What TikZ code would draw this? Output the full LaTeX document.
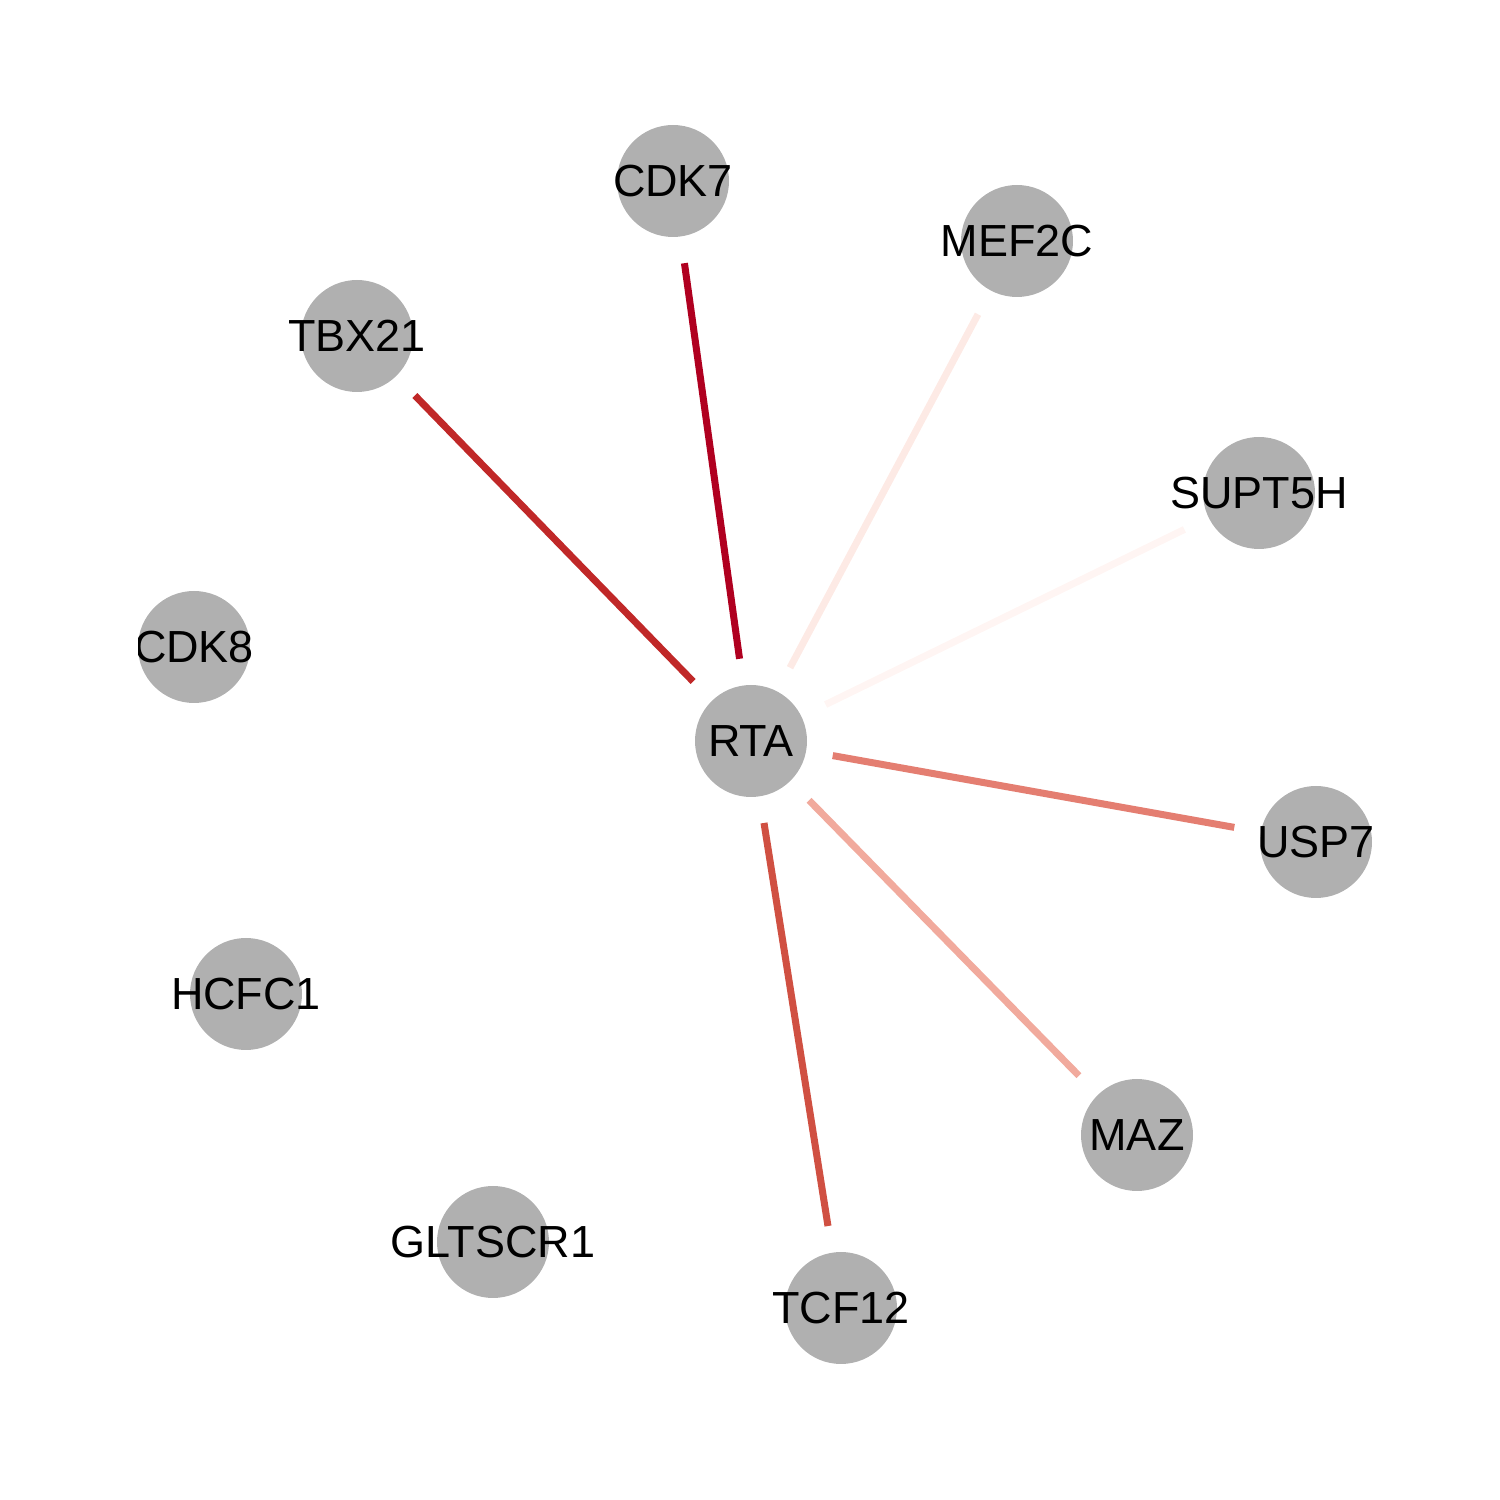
\documentclass[tikz,border=0pt]{standalone}
\usepackage{fontspec}
\setmainfont{Liberation Sans}
\definecolor{nodegray}{RGB}{176,176,176}
\definecolor{wA}{RGB}{176,0,32}
\definecolor{wB}{RGB}{192,40,40}
\definecolor{wC}{RGB}{208,80,66}
\definecolor{wD}{RGB}{228,126,113}
\definecolor{wE}{RGB}{241,170,157}
\definecolor{wF}{RGB}{253,234,229}
\definecolor{wG}{RGB}{255,245,243}
\tikzset{
  gene/.style={circle, fill=nodegray, draw=none, minimum size=1.12cm, inner sep=0pt, outer sep=0pt},
  glabel/.style={font=\fontsize{12.8pt}{14pt}\selectfont, text=black, inner sep=0pt},
  link/.style={line width=0.07cm, shorten <=0.27cm, shorten >=0.27cm}
}
\begin{document}
\begin{tikzpicture}
\useasboundingbox (0,0) rectangle (15,15);
\clip (1.38,0) rectangle (15,15);
% gene nodes
\node[gene, label={[glabel]center:RTA}] (rta) at (7.51,7.59) {};
\node[gene, label={[glabel]center:CDK7}] (cdk7) at (6.73,13.19) {};
\node[gene, label={[glabel]center:MEF2C}] (mef2c) at (10.17,12.59) {};
\node[gene, label={[glabel]center:TBX21}] (tbx21) at (3.57,11.64) {};
\node[gene, label={[glabel]center:SUPT5H}] (supt5h) at (12.59,10.07) {};
\node[gene, label={[glabel]center:CDK8}] (cdk8) at (1.94,8.53) {};
\node[gene, label={[glabel]center:USP7}] (usp7) at (13.16,6.58) {};
\node[gene, label={[glabel]center:HCFC1}] (hcfc1) at (2.46,5.06) {};
\node[gene, label={[glabel]center:MAZ}] (maz) at (11.37,3.65) {};
\node[gene, label={[glabel]center:GLTSCR1}] (gltscr1) at (4.93,2.58) {};
\node[gene, label={[glabel]center:TCF12}] (tcf12) at (8.41,1.92) {};
% weighted interactions
\draw[link, wA] (rta) -- (cdk7);
\draw[link, wB] (rta) -- (tbx21);
\draw[link, wC] (rta) -- (tcf12);
\draw[link, wD] (rta) -- (usp7);
\draw[link, wE] (rta) -- (maz);
\draw[link, wF] (rta) -- (mef2c);
\draw[link, wG] (rta) -- (supt5h);
\end{tikzpicture}
\end{document}
